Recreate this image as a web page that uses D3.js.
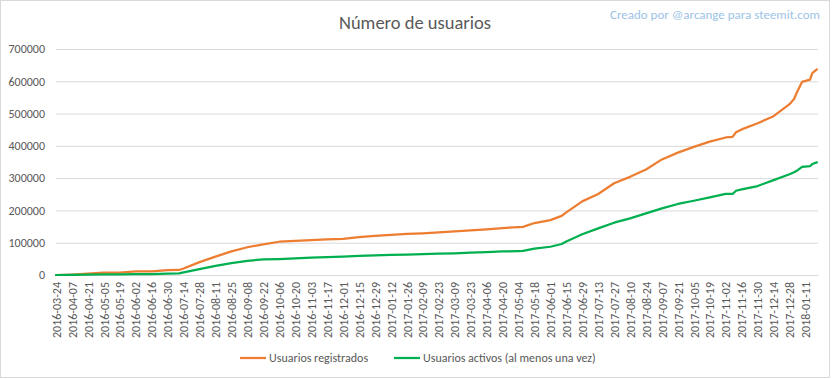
<!DOCTYPE html>
<meta charset="utf-8">
<script src="https://d3js.org/d3.v7.min.js"></script>
<style>
  body { margin: 0; background: #fff; }
  svg text { font-family: Carlito, Calibri, "Liberation Sans Narrow", "Open Sans", sans-serif; fill: #595959; }
</style>
<div id="chart"></div>
<script>
  var dates = ["2016-03-24","2016-04-07","2016-04-21","2016-05-05","2016-05-19","2016-06-02","2016-06-16","2016-06-30",
    "2016-07-10","2016-07-14","2016-07-28","2016-08-11","2016-08-25","2016-09-08","2016-09-22","2016-10-06","2016-10-20",
    "2016-11-03","2016-11-17","2016-12-01","2016-12-15","2016-12-29","2017-01-12","2017-01-26","2017-02-09","2017-02-23",
    "2017-03-09","2017-03-23","2017-04-06","2017-04-20","2017-05-04","2017-05-08","2017-05-18","2017-06-01","2017-06-11",
    "2017-06-15","2017-06-29","2017-07-13","2017-07-27","2017-08-10","2017-08-24","2017-09-07","2017-09-21","2017-10-05",
    "2017-10-19","2017-11-02","2017-11-08","2017-11-11","2017-11-16","2017-11-30","2017-12-14","2017-12-28","2018-01-01",
    "2018-01-03","2018-01-08","2018-01-15","2018-01-17","2018-01-21"];

  var registrados = [0,1500,4000,7500,7500,11000,11000,15000,15500,20000,40000,57000,73000,86000,95000,103000,106000,
    108000,110000,112000,117500,121000,124000,127000,129000,132000,135000,138000,141500,145500,148500,149000,161000,
    170000,183000,194000,228000,251000,284000,304000,327000,358000,379000,397000,413000,426000,428000,442000,451000,
    470000,492000,529000,545000,562000,598000,605000,625000,637000];

  var activos = [0,500,1500,2000,2000,2500,2500,4000,5000,8000,18500,28000,37000,44000,48500,49500,51500,53500,55000,
    57000,59000,61000,62000,63000,65000,66000,67000,69000,71000,73000,74000,74500,81500,87500,96000,104000,126000,
    144500,162000,175500,191000,206500,220000,230000,240500,251000,251000,261000,265000,275500,294000,312000,318000,
    322000,335000,337000,344000,349000];

  var tickLabels = ["2016-03-24","2016-04-07","2016-04-21","2016-05-05","2016-05-19","2016-06-02","2016-06-16",
    "2016-06-30","2016-07-14","2016-07-28","2016-08-11","2016-08-25","2016-09-08","2016-09-22","2016-10-06","2016-10-20",
    "2016-11-03","2016-11-17","2016-12-01","2016-12-15","2016-12-29","2017-01-12","2017-01-26","2017-02-09","2017-02-23",
    "2017-03-09","2017-03-23","2017-04-06","2017-04-20","2017-05-04","2017-05-18","2017-06-01","2017-06-15","2017-06-29",
    "2017-07-13","2017-07-27","2017-08-10","2017-08-24","2017-09-07","2017-09-21","2017-10-05","2017-10-19","2017-11-02",
    "2017-11-16","2017-11-30","2017-12-14","2017-12-28","2018-01-11"];

  var yTicks = [0,100000,200000,300000,400000,500000,600000,700000];

  var seriesNames = ["Usuarios registrados", "Usuarios activos (al menos una vez)"];
  var seriesColors = ["#ed7d31", "#00b050"];

  var W = 832, H = 379;
  var plot = {left: 56, right: 818, top: 49, bottom: 275};

  var parse = d3.timeParse("%Y-%m-%d");
  var fmt = d3.timeFormat("%Y-%m-%d");

  var svg = d3.select("#chart").append("svg")
      .attr("width", W)
      .attr("height", H);

  svg.append("rect")
    .attr("x", 0.5).attr("y", 0.5)
    .attr("width", W - 3).attr("height", H - 2)
    .attr("fill", "#fff")
    .attr("stroke", "#d9d9d9");

  var x = d3.scaleTime()
    .domain([parse("2016-03-24"), parse("2018-01-22")])
    .range([plot.left, plot.right]);

  var y = d3.scaleLinear()
    .domain([0, 700000])
    .range([plot.bottom, plot.top]);

  // gridlines + y labels
  svg.append("g")
    .attr("transform", "translate(" + plot.left + ",0)")
    .call(d3.axisLeft(y).tickValues(yTicks).tickSize(-(plot.right - plot.left)).tickPadding(11).tickFormat(d3.format("d")))
    .call(g => g.select(".domain").remove())
    .call(g => g.selectAll("line").attr("stroke", "#d9d9d9"))
    .call(g => g.selectAll("text").style("font-size", "12px"));

  // x axis
  var xAxis = svg.append("g")
    .attr("transform", "translate(0," + plot.bottom + ")")
    .call(d3.axisBottom(x).tickValues(tickLabels.map(parse)).tickSize(0).tickFormat(fmt));
  xAxis.select(".domain").attr("stroke", "#d9d9d9");
  xAxis.selectAll("text")
    .style("font-size", "12px")
    .attr("text-anchor", "end")
    .attr("transform", "rotate(-90)")
    .attr("x", -7)
    .attr("y", 0)
    .attr("dy", "0.35em");

  var line = d3.line()
    .x((d, i) => x(parse(dates[i])))
    .y(d => y(d));

  [registrados, activos].forEach(function(vals, i) {
    svg.append("path")
      .datum(vals)
      .attr("fill", "none")
      .attr("stroke", seriesColors[i])
      .attr("stroke-width", 2.25)
      .attr("stroke-linejoin", "round")
      .attr("stroke-linecap", "round")
      .attr("d", line);
  });

  svg.append("text")
    .attr("x", 415)
    .attr("y", 29)
    .attr("text-anchor", "middle")
    .style("font-size", "18.5px")
    .style("font-weight", 300)
    .text("Número de usuarios");

  svg.append("text")
    .attr("x", 820)
    .attr("y", 19)
    .attr("text-anchor", "end")
    .style("font-size", "13px")
    .style("fill", "#9dc3e6")
    .text("Creado por @arcange para steemit.com");

  // legend
  var legendX = [240, 394];
  seriesNames.forEach(function(name, i) {
    var g = svg.append("g").attr("transform", "translate(" + legendX[i] + ",358)");
    g.append("line")
      .attr("x1", 0).attr("x2", 26)
      .attr("stroke", seriesColors[i])
      .attr("stroke-width", 2.25);
    g.append("text")
      .attr("x", 29)
      .attr("dy", "0.35em")
      .style("font-size", "12px")
      .text(name);
  });
</script>
